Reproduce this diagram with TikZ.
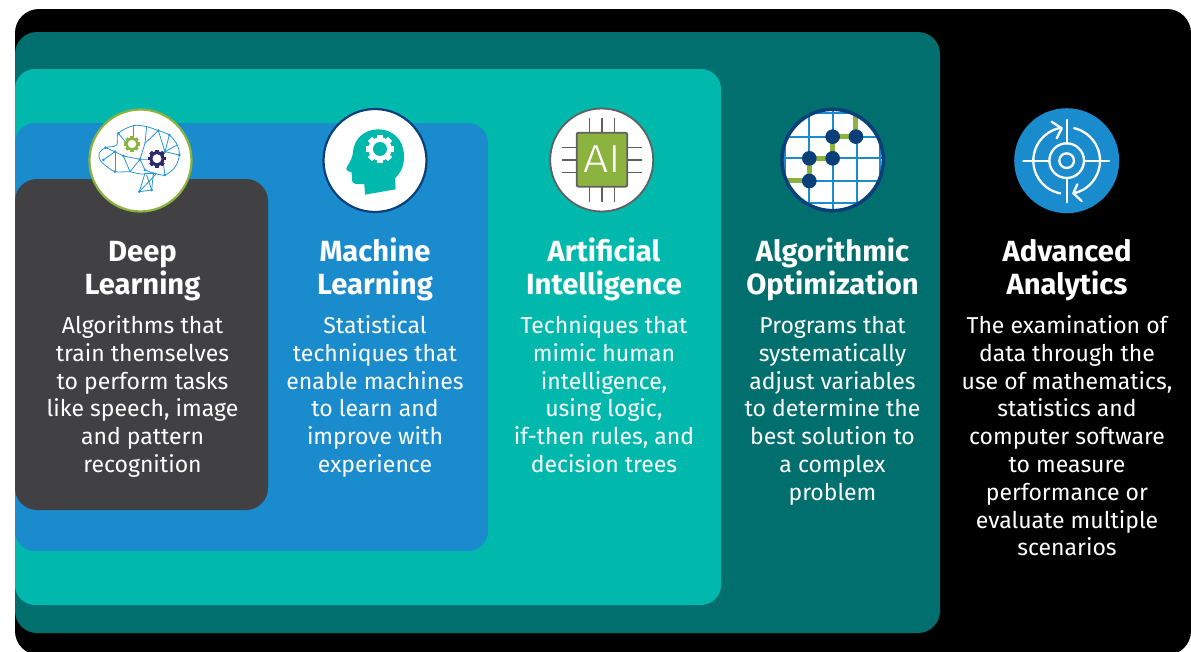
\documentclass[tikz,border=0pt]{standalone}
\usepackage{fontspec}
\usepackage{graphicx}
\setmainfont{Fira Sans}
\newfontfamily\lightfont{Fira Sans Light}
\definecolor{cdark}{HTML}{006F6E}
\definecolor{cteal}{HTML}{00B9AC}
\definecolor{cblue}{HTML}{1A8BCD}
\definecolor{cgray}{HTML}{414042}
\definecolor{cgreen}{HTML}{8DB33F}
\definecolor{cnavy}{HTML}{0B3F7A}
\definecolor{cmid}{HTML}{5F6062}
\definecolor{cindigo}{HTML}{2B2A6B}
\definecolor{cline}{HTML}{2A96D4}
\newcommand{\topt}{\rule{0pt}{28pt}}
\tikzset{
  panel/.style={rounded corners=#1,draw=none},
  title/.style={text=white,font=\fontsize{29.2}{33}\selectfont\bfseries,align=center,anchor=north,inner sep=0pt},
  body/.style={text=white,font=\fontsize{23}{27.8}\selectfont,align=center,anchor=north,inner sep=0pt},
  disc/.style={circle,minimum size=#1,inner sep=0pt},
  icon/.style={x=0.3333pt,y=-0.3333pt},
  brainline/.style={draw=cline,line width=0.8pt,line cap=round,line join=round},
  brainpt/.style={fill=cline},
  ticon/.style={line width=2.3pt,white,line cap=round,line join=round}
}
\newcommand{\cog}[6]{% x y outer-radius colour hole-colour hole-ratio
  \foreach \ang in {0,45,...,315}{
    \fill[#4,rotate around={\ang:(#1,#2)}] (#1-0.2*#3,#2-#3) rectangle (#1+0.2*#3,#2+#3);
  }
  \fill[#4] (#1,#2) circle[radius=0.84*#3];
  \fill[#5] (#1,#2) circle[radius=#6*#3];
}
\begin{document}
\begin{tikzpicture}[x=1pt,y=-1pt]
\useasboundingbox (0,0) rectangle (1191,651);
\clip (0,0) rectangle (1191,651);
\fill[white] (0,0) rectangle (1191,651);
\fill[panel=24,black] (15,9) rectangle (1191,655);
\fill[panel=22,cdark] (15,32) rectangle (940,633);
\fill[panel=20,cteal] (15,69) rectangle (721,605);
\fill[panel=20,cblue] (15,123) rectangle (488,551);
\fill[panel=22,cgray] (15,179) rectangle (268,510);

% brain disc
\node[disc=102pt,fill=white,draw=cgreen,line width=2.2pt] (dl) at (140.5,160.5) {};
\begin{scope}[shift={(90pt,-110pt)},icon]
  \draw[brainline] plot[smooth cycle,tension=0.55] coordinates {(47,113) (80,105) (85,70) (130,47) (170,50) (205,62) (238,75) (262,105) (268,135) (256,170) (225,195) (190,190) (150,192) (120,185) (75,185) (45,165) (30,150) (28,128)};
  \draw[brainline] (47,113)--(75,125)--(100,138)--(150,148)--(190,148)--(225,125)--(238,75);
  \draw[brainline] (85,70)--(110,100);
  \draw[brainline] (130,47)--(130,90);
  \draw[brainline] (170,50)--(165,100)--(150,148);
  \draw[brainline] (205,62)--(165,100);
  \draw[brainline] (205,62)--(225,125)--(262,105);
  \draw[brainline] (225,125)--(268,135);
  \draw[brainline] (75,125)--(75,185);
  \draw[brainline] (75,125)--(40,150);
  \draw[brainline] (100,138)--(120,185);
  \draw[brainline] (150,148)--(165,180)--(190,190);
  \draw[brainline] (220,160)--(225,195);
  \draw[brainline] (150,148)--(120,185);
  \draw[brainline] (165,190)--(148,245)--(185,240)--(190,190)--(165,190);
  \draw[brainline] (170,195)--(185,240);
  \draw[brainline] (200,190)--(148,245);
  \foreach \p in {(47,113),(85,70),(205,62),(238,75),(225,125),(268,135),(75,125),(100,138),(150,148),(40,150),(75,185),(165,180),(190,190),(225,195),(148,245),(185,240)}
    \fill[brainpt] \p circle[radius=4.5];
  \cog{126}{102}{23}{cgreen}{white}{0.55}
  \cog{201}{146}{27}{cindigo}{white}{0.5}
\end{scope}

% head disc
\node[disc=103pt,fill=white,draw=cnavy,line width=2.2pt] (ml) at (375,160.5) {};
\begin{scope}[shift={(325pt,-110pt)},icon]
  \fill[cteal] (160,58) .. controls (120,58) and (88,84) .. (84,125)
    .. controls (82,145) and (78,150) .. (66,170)
    .. controls (60,180) and (68,184) .. (80,187)
    -- (81,212) .. controls (82,222) and (95,224) .. (118,222)
    -- (120,254) -- (212,238) -- (210,205)
    .. controls (230,185) and (238,165) .. (237,135)
    .. controls (235,85) and (200,58) .. (160,58) -- cycle;
  \cog{165}{117}{42}{white}{cteal}{0.5}
\end{scope}

% AI disc
\node[disc=103pt,fill=white,draw=cmid,line width=1.8pt] (ai) at (601.7,160) {};
\begin{scope}[shift={(530pt,-95pt)},icon]
  \foreach \k in {178,216,254}{\draw[cmid,line width=1.6pt] (\k,70) -- (\k,320);}
  \foreach \k in {157,195,233}{\draw[cmid,line width=1.6pt] (97,\k) -- (337,\k);}
  \draw[cmid,fill=cgreen,line width=1.8pt,rounded corners=2pt] (140,113) rectangle (292,275);
\end{scope}
\node[text=white,font=\lightfont\fontsize{39}{39}\selectfont,inner sep=0pt,anchor=base] (aitext) at (602,172.5) {\scalebox{1.14}[1]{AI}};

% optimisation disc
\node[disc=102pt,fill=white,draw=none] (ao) at (832.7,160) {};
\begin{scope}[shift={(530pt,-95pt)},icon]
  \begin{scope}
    \clip (908,195) circle[radius=150];
    \foreach \k in {765,838,908,980,1050}{\draw[cblue,line width=2pt] (\k,30) -- (\k,360);}
    \foreach \k in {55,125,190,258,325}{\draw[cblue,line width=2pt] (750,\k) -- (1070,\k);}
    \draw[cgreen,line width=5pt] (760,258)--(838,258)--(838,190)--(908,190)--(908,125)--(978,125)--(978,50);
  \end{scope}
  \foreach \p in {(838,258),(838,190),(908,190),(908,125),(978,125)}
    \fill[cnavy] \p circle[radius=22];
  \draw[cnavy,line width=3.5pt] (908,195) circle[radius=152];
\end{scope}

% analytics disc
\node[disc=105pt,fill=cblue] (aa) at (1066.7,160.7) {};
\begin{scope}[shift={(1000pt,-95pt)},icon]
  \draw[ticon] (200,197) circle[radius=22];
  \draw[ticon] (200,197) circle[radius=52];
  \draw[ticon] (200,75)--(200,145);
  \draw[ticon] (200,249)--(200,322);
  \draw[ticon] (70,197)--(148,197);
  \draw[ticon] (252,197)--(327,197);
  \draw[ticon] plot[domain=101:261,samples=40,smooth] ({200+100*cos(\x)},{197+100*sin(\x)});
  \draw[ticon] (155,80)--(185,100)--(170,130);
  \draw[ticon] plot[domain=-77:78,samples=40,smooth] ({200+100*cos(\x)},{197+100*sin(\x)});
  \draw[ticon] (245,318)--(220,295)--(232,268);
\end{scope}

% titles (first baseline = anchor y + 28)
\node[title] (t1) at (142.5,233) {\topt Deep\\Learning};
\node[title] (t2) at (375,233) {\topt Machine\\Learning};
\node[title] (t3) at (604,233) {\topt Artificial\\Intelligence};
\node[title] (t4) at (832.5,233) {\topt Algorithmic\\Optimization};
\node[title] (t5) at (1067,233) {\topt Advanced\\Analytics};
% body text
\node[body] (b1) at (142.5,305.2) {\topt Algorithms that\\train themselves\\to perform tasks\\like speech, image\\and pattern\\recognition};
\node[body] (b2) at (375,305.2) {\topt Statistical\\techniques that\\enable machines\\to learn and\\improve with\\experience};
\node[body] (b3) at (604,305.2) {\topt Techniques that\\mimic human\\intelligence,\\using logic,\\if-then rules, and\\decision trees};
\node[body] (b4) at (832.5,305.2) {\topt Programs that\\systematically\\adjust variables\\to determine the\\best solution to\\a complex\\problem};
\node[body] (b5) at (1067,305.2) {\topt The examination of\\data through the\\use of mathematics,\\statistics and\\computer software\\to measure\\performance or\\evaluate multiple\\scenarios};
\end{tikzpicture}
\end{document}
